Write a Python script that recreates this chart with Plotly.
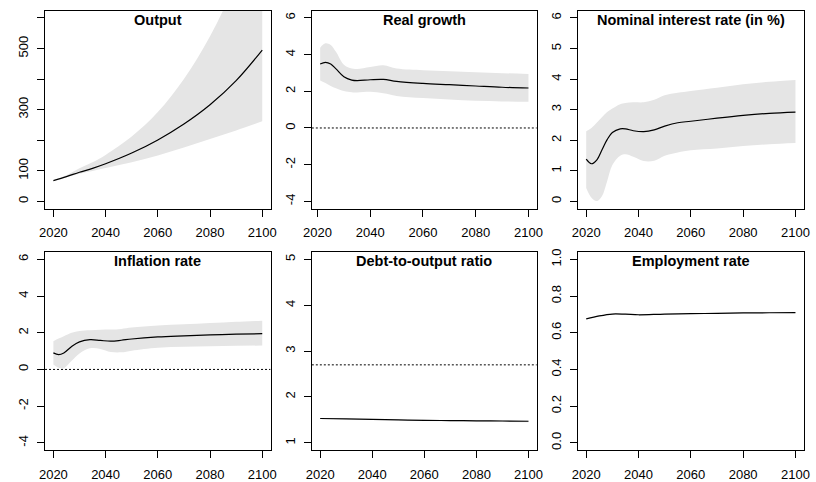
import plotly.graph_objects as go

# ---------------- data ----------------
years_output = [2020, 2025, 2030, 2035, 2040, 2050, 2060, 2070, 2080, 2090, 2100]
output_mean = [68, 81, 95, 108, 123, 158, 201, 253, 316, 395, 495]
output_lo = [68, 79, 90, 99, 109, 128, 150, 176, 204, 232, 262]
output_hi = [68, 85, 108, 128, 152, 212, 292, 400, 540, 720, 950]

years_growth = [2021, 2023, 2025, 2027, 2030, 2033, 2035, 2040, 2045, 2050, 2060, 2070, 2080, 2090, 2100]
growth_mean = [3.49, 3.58, 3.49, 3.22, 2.79, 2.61, 2.58, 2.63, 2.65, 2.54, 2.43, 2.36, 2.29, 2.22, 2.18]
growth_hi = [4.38, 4.62, 4.53, 4.15, 3.45, 3.24, 3.22, 3.33, 3.42, 3.24, 3.15, 3.09, 3.04, 2.99, 2.95]
growth_lo = [2.59, 2.45, 2.29, 2.17, 2.02, 1.95, 1.93, 1.97, 1.90, 1.75, 1.63, 1.55, 1.48, 1.45, 1.43]

years_nom = [2020, 2022, 2024, 2026, 2028, 2030, 2033, 2035, 2038, 2042, 2046, 2050, 2055, 2060, 2070, 2080, 2090, 2100]
nom_mean = [1.38, 1.23, 1.35, 1.68, 2.02, 2.25, 2.37, 2.37, 2.31, 2.28, 2.34, 2.46, 2.57, 2.62, 2.72, 2.81, 2.88, 2.92]
nom_hi = [2.29, 2.40, 2.57, 2.75, 2.92, 3.04, 3.18, 3.22, 3.24, 3.24, 3.32, 3.47, 3.55, 3.61, 3.72, 3.83, 3.91, 3.97]
nom_lo = [0.44, 0.12, 0.01, 0.17, 0.66, 1.19, 1.49, 1.54, 1.46, 1.32, 1.33, 1.49, 1.60, 1.67, 1.73, 1.81, 1.87, 1.91]

years_inf = [2020, 2022, 2024, 2027, 2030, 2034, 2038, 2042, 2046, 2050, 2060, 2070, 2080, 2090, 2100]
inf_mean = [0.90, 0.81, 0.90, 1.25, 1.50, 1.62, 1.58, 1.54, 1.59, 1.66, 1.77, 1.83, 1.88, 1.92, 1.95]
inf_hi = [1.54, 1.68, 1.81, 2.00, 2.10, 2.14, 2.16, 2.17, 2.21, 2.28, 2.39, 2.46, 2.53, 2.60, 2.66]
inf_lo = [0.27, 0.09, 0.07, 0.47, 0.87, 1.15, 1.12, 0.95, 0.93, 1.02, 1.18, 1.23, 1.27, 1.29, 1.30]

years_debt = [2020, 2030, 2040, 2050, 2060, 2070, 2080, 2090, 2100]
debt_mean = [1.53, 1.52, 1.51, 1.50, 1.49, 1.485, 1.48, 1.475, 1.47]
debt_hi = [1.53, 1.525, 1.515, 1.51, 1.50, 1.495, 1.49, 1.49, 1.485]
debt_lo = [1.53, 1.515, 1.50, 1.49, 1.475, 1.47, 1.46, 1.455, 1.45]
debt_ref = 2.7

years_emp = [2020, 2025, 2030, 2035, 2040, 2050, 2060, 2070, 2080, 2090, 2100]
emp_mean = [0.676, 0.692, 0.702, 0.701, 0.698, 0.702, 0.704, 0.706, 0.708, 0.709, 0.710]
emp_hi = [0.677, 0.694, 0.704, 0.703, 0.700, 0.704, 0.706, 0.708, 0.710, 0.711, 0.712]
emp_lo = [0.675, 0.690, 0.700, 0.699, 0.696, 0.700, 0.702, 0.704, 0.706, 0.707, 0.708]

titles = ["Output", "Real growth", "Nominal interest rate (in %)",
          "Inflation rate", "Debt-to-output ratio", "Employment rate"]
x_ticks = [2020, 2040, 2060, 2080, 2100]
y_ticks = [
    [0, 100, 200, 300, 400, 500, 600],
    [-4, -2, 0, 2, 4, 6],
    [0, 1, 2, 3, 4, 5, 6],
    [-4, -2, 0, 2, 4, 6],
    [1, 2, 3, 4, 5],
    [0.0, 0.2, 0.4, 0.6, 0.8, 1.0],
]
y_ticktext = [
    ["0", "100", "", "300", "", "500", ""],
    ["-4", "-2", "0", "2", "4", "6"],
    ["0", "1", "2", "3", "4", "5", "6"],
    ["-4", "-2", "0", "2", "4", "6"],
    ["1", "2", "3", "4", "5"],
    ["0.0", "0.2", "0.4", "0.6", "0.8", "1.0"],
]
y_limits = [(0, 600), (-4, 6), (0, 6), (-4, 6), (1, 5), (0, 1)]
ref_lines = [None, 0, None, 0, debt_ref, None]

panels = [
    (years_output, output_mean, output_lo, output_hi),
    (years_growth, growth_mean, growth_lo, growth_hi),
    (years_nom, nom_mean, nom_lo, nom_hi),
    (years_inf, inf_mean, inf_lo, inf_hi),
    (years_debt, debt_mean, debt_lo, debt_hi),
    (years_emp, emp_mean, emp_lo, emp_hi),
]

# ---------------- layout geometry ----------------
W, H = 816, 482
col_px = [(36.7, 266.5), (308.5, 537.7), (579.5, 809.7)]
row_px = [(6.7, 207.7), (251.7, 452.7)]

FONT = "Liberation Sans, Arial, Helvetica, sans-serif"
BAND = "#E5E5E5"

fig = go.Figure()
layout = dict(
    width=W, height=H,
    margin=dict(l=0, r=0, t=0, b=0),
    paper_bgcolor="white", plot_bgcolor="white",
    showlegend=False,
    font=dict(family=FONT, size=13, color="black"),
)
annotations = []

for i, (xs, mean, lo, hi) in enumerate(panels):
    n = i + 1
    r, c = divmod(i, 3)
    xa = "x" if n == 1 else f"x{n}"
    ya = "y" if n == 1 else f"y{n}"
    xkey = "xaxis" if n == 1 else f"xaxis{n}"
    ykey = "yaxis" if n == 1 else f"yaxis{n}"

    x0, x1 = xs[0], xs[-1]
    xpad = 0.04 * (x1 - x0)
    ylo, yhi = y_limits[i]
    ypad = 0.04 * (yhi - ylo)

    # band
    fig.add_trace(go.Scatter(x=xs, y=lo, mode="lines", line=dict(width=0, color=BAND, shape="spline"),
                             xaxis=xa, yaxis=ya, hoverinfo="skip"))
    fig.add_trace(go.Scatter(x=xs, y=hi, mode="lines", line=dict(width=0, color=BAND, shape="spline"),
                             fill="tonexty", fillcolor=BAND, xaxis=xa, yaxis=ya, hoverinfo="skip"))
    # reference line
    if ref_lines[i] is not None:
        fig.add_trace(go.Scatter(x=[x0 - xpad, x1 + xpad], y=[ref_lines[i], ref_lines[i]], mode="lines",
                                 line=dict(color="black", width=1, dash="2px,2px"),
                                 xaxis=xa, yaxis=ya, hoverinfo="skip"))
    # mean line
    fig.add_trace(go.Scatter(x=xs, y=mean, mode="lines", line=dict(color="black", width=1.2, shape="spline"),
                             xaxis=xa, yaxis=ya))

    cx0, cx1 = col_px[c]
    ry0, ry1 = row_px[r]
    layout[xkey] = dict(
        domain=[cx0 / W, cx1 / W], anchor=ya,
        range=[x0 - xpad, x1 + xpad],
        tickvals=x_ticks, ticktext=[str(v) for v in x_ticks],
        ticks="outside", ticklen=7, tickwidth=1, tickcolor="black",
        showline=True, mirror=True, linecolor="black", linewidth=1,
        showgrid=False, zeroline=False,
        tickfont=dict(family=FONT, size=13, color="black"),
        ticklabelstandoff=5,
    )
    layout[ykey] = dict(
        domain=[1 - ry1 / H, 1 - ry0 / H], anchor=xa,
        range=[ylo - ypad, yhi + ypad],
        tickvals=y_ticks[i], ticktext=y_ticktext[i],
        ticks="outside", ticklen=7, tickwidth=1, tickcolor="black",
        showline=True, mirror=True, linecolor="black", linewidth=1,
        showgrid=False, zeroline=False, tickangle=-90,
        tickfont=dict(family=FONT, size=13, color="black"),
        ticklabelstandoff=4,
    )
    annotations.append(dict(
        text="<b>" + titles[i] + "</b>", xref=f"{xa} domain", yref=f"{ya} domain",
        x=0.5, y=1, xanchor="center", yanchor="middle", yshift=-9, showarrow=False,
        font=dict(family=FONT, size=14.5, color="black"),
    ))

layout["annotations"] = annotations
fig.update_layout(**layout)
fig.write_html(
    "out.html",
    config={"displayModeBar": False},
    post_script="document.body.style.margin='0';document.body.style.overflow='hidden';",
)
